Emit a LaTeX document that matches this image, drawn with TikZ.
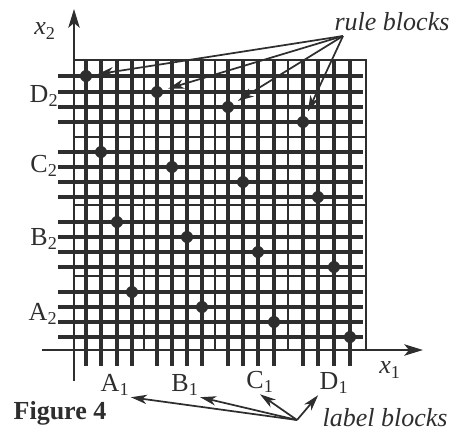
\documentclass[tikz,border=0pt]{standalone}
\usepackage{fontspec}
\setmainfont{Liberation Serif}
\usetikzlibrary{arrows.meta}
\definecolor{inkc}{gray}{0.18}
\begin{document}
\begin{tikzpicture}[x=0.75pt,y=-0.75pt,
  gridthick/.style={draw=inkc,line width=2.6pt},
  gridthin/.style={draw=inkc,line width=1.2pt},
  frameline/.style={draw=inkc,line width=1.3pt},
  axisline/.style={draw=inkc,line width=1.8pt,-{Stealth[length=14pt,width=8.5pt,inset=3.5pt]}},
  pointer/.style={draw=inkc,line width=1.3pt,-{Stealth[length=12pt,width=7pt,inset=3.5pt]}},
  dot/.style={circle,fill=inkc,inner sep=0pt,minimum size=9pt},
  lab/.style={text=inkc,inner sep=1pt,font=\fontsize{19.5}{22}\selectfont},
  itlab/.style={lab,font=\fontsize{19.5}{22}\selectfont\itshape},
  figlab/.style={lab,font=\fontsize{19.5}{22}\selectfont\bfseries}]
\useasboundingbox (0,0) rectangle (465,436);

% frame (top and right)
\draw[frameline] (74,60) -- (366,60) -- (366,350);

% thin gap lines between blocks
\foreach \c in {144,215,288} \draw[gridthin] (\c,60) -- (\c,350);
\foreach \r in {137,205,276} \draw[gridthin] (74,\r) -- (366,\r);

% thick grid lines (with ticks beyond the axes)
\foreach \c in {86,101,117,132,157,172,187,202,228,243,258,274,303,318,334,350}
  \draw[gridthick] (\c,60) -- (\c,366);
\foreach \r in {76,92,107,122,152,167,182,197,222,237,252,267,292,307,322,337}
  \draw[gridthick] (58,\r) -- (363,\r);

% axes
\coordinate (xstart) at (42,350);
\coordinate (xend) at (423,350);
\coordinate (ystart) at (74,381);
\coordinate (yend) at (74,9);
\draw[axisline] (xstart) -- (xend);
\draw[axisline] (ystart) -- (yend);

% rule block dots
\foreach \x/\y/\n in {86/76/d1,157/92/d2,228/107/d3,303/122/d4,
                      101/152/c1,172/167/c2,243/182/c3,318/197/c4,
                      117/222/b1,187/237/b2,258/252/b3,334/267/b4,
                      132/292/a1,202/307/a2,274/322/a3,350/337/a4}
  \node[dot] (dot\n) at (\x,\y) {};

% axis labels
\node[itlab] (xtwo) at (45,31) {x\textsubscript{\upshape 2}};
\node[itlab] (xone) at (390,370) {x\textsubscript{\upshape 1}};
\node[lab] (Dtwo) at (44,96) {D\textsubscript{2}};
\node[lab] (Ctwo) at (44,166) {C\textsubscript{2}};
\node[lab] (Btwo) at (44,239) {B\textsubscript{2}};
\node[lab] (Atwo) at (43,314) {A\textsubscript{2}};
\node[lab] (Aone) at (115,385) {A\textsubscript{1}};
\node[lab] (Bone) at (185,385) {B\textsubscript{1}};
\node[lab] (Cone) at (260,382) {C\textsubscript{1}};
\node[lab] (Done) at (334,383) {D\textsubscript{1}};

% callouts
\node[itlab] (rule) at (392,22) {rule blocks};
\node[itlab] (labelblk) at (385,418) {label blocks};
\node[figlab] (fig) at (60,413) {Figure 4};

\coordinate (rulefoot) at (343,36);
\foreach \n in {d1,d2,d3,d4}
  \draw[pointer,shorten >=4pt] (rulefoot) -- (dot\n);

\coordinate (labfoot) at (297,420);
\draw[pointer] (labfoot) -- (Aone.south east);
\draw[pointer] (labfoot) -- (Bone.south east);
\draw[pointer] (labfoot) -- (Cone.south);
\draw[pointer] (labfoot) -- (Done.south west);
\end{tikzpicture}
\end{document}
